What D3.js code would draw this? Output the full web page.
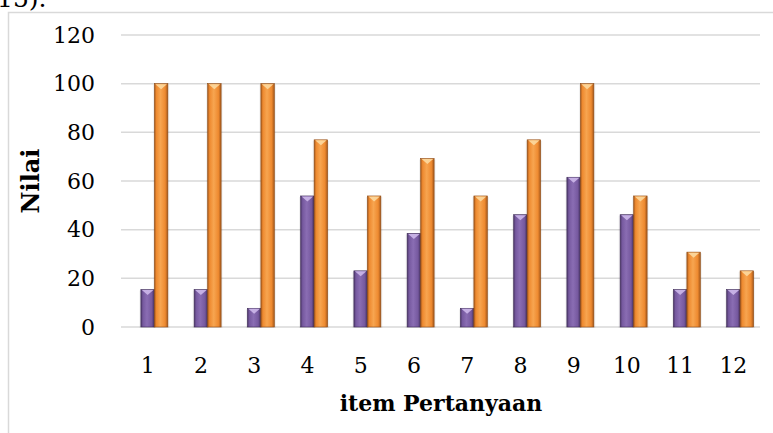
<!DOCTYPE html>
<html>
<head>
<meta charset="utf-8">
<script src="https://cdn.jsdelivr.net/npm/d3@7"></script>
<style>
  body { margin: 0; background: #fff; }
  text { font-family: "DejaVu Serif", serif; }
</style>
</head>
<body>
<div id="svg-holder"></div>
<script>
let width = 773,
    height = 433

// data
let items = ["1", "2", "3", "4", "5", "6", "7", "8", "9", "10", "11", "12"]
let nilaiUngu = [15.38, 15.38, 7.69, 53.85, 23.08, 38.46, 7.69, 46.15, 61.54, 46.15, 15.38, 15.38]
let nilaiOranye = [100, 100, 100, 76.92, 53.85, 69.23, 53.85, 76.92, 100, 53.85, 30.77, 23.08]
let yTicks = [0, 20, 40, 60, 80, 100, 120]

let svg = d3.select("#svg-holder").append('svg')
    .attr("width", width)
    .attr("height", height)

// gradients for the bevelled bars
let defs = svg.append('defs')
function addGrad(id, edge, mid, light) {
    let g = defs.append('linearGradient').attr('id', id)
        .attr('x1', '0%').attr('x2', '100%').attr('y1', '0%').attr('y2', '0%')
    g.append('stop').attr('offset', '0%').attr('stop-color', edge)
    g.append('stop').attr('offset', '15%').attr('stop-color', mid)
    g.append('stop').attr('offset', '45%').attr('stop-color', light)
    g.append('stop').attr('offset', '80%').attr('stop-color', mid)
    g.append('stop').attr('offset', '100%').attr('stop-color', edge)
}
addGrad('gradUngu', '#4a3566', '#76599f', '#8a6db3')
addGrad('gradOranye', '#a4571a', '#ee8a30', '#f7a550')

// chart frame
svg.append('rect')
    .attr('x', 8.5).attr('y', 12.5)
    .attr('width', width + 10).attr('height', height + 10)
    .attr('fill', 'none')
    .attr('stroke', '#d9d9d9')
    .attr('stroke-width', 1.5)

// text of the page above the chart, cut off like in the source
svg.append('text')
    .attr('x', -3).attr('y', 7)
    .attr('font-size', 25)
    .attr('fill', '#000')
    .text('15).')

let x = d3.scaleBand()
    .domain(items)
    .range([121, 760])

let y = d3.scaleLinear()
    .domain([0, 120])
    .range([327, 35])

let barW = 13.5
// three slots per category, the first one is empty in the source chart
let xSub = d3.scaleBand()
    .domain(['kosong', 'ungu', 'oranye'])
    .range([(x.bandwidth() - 3 * barW) / 2, (x.bandwidth() + 3 * barW) / 2])

// gridlines
svg.append('g')
    .selectAll('line')
    .data(yTicks)
    .enter()
    .append('line')
    .attr('x1', 121)
    .attr('x2', 760)
    .attr('y1', d => y(d))
    .attr('y2', d => y(d))
    .attr('stroke', '#d9d9d9')
    .attr('stroke-width', 1.5)

// y tick labels
svg.append('g')
    .selectAll('text')
    .data(yTicks)
    .enter()
    .append('text')
    .attr('x', 95)
    .attr('y', d => y(d))
    .attr('dy', '0.35em')
    .attr('text-anchor', 'end')
    .attr('font-size', 22)
    .attr('fill', '#000')
    .text(d => d)

// x tick labels
svg.append('g')
    .selectAll('text')
    .data(items)
    .enter()
    .append('text')
    .attr('x', d => x(d) + xSub('ungu') + barW / 2)
    .attr('y', 373)
    .attr('text-anchor', 'middle')
    .attr('font-size', 22)
    .attr('fill', '#000')
    .text(d => d)

let series = [
    { key: 'ungu', values: nilaiUngu, fill: 'url(#gradUngu)', stroke: '#3e2b57', tip: '#cdb8ea' },
    { key: 'oranye', values: nilaiOranye, fill: 'url(#gradOranye)', stroke: '#8f4b14', tip: '#fcd9a0' }
]

series.forEach(s => {
    let g = svg.append('g')
    let data = items.map((k, i) => ({ item: k, v: s.values[i] }))

    // soft shadow
    g.selectAll('rect.shadow')
        .data(data)
        .enter()
        .append('rect')
        .attr('class', 'shadow')
        .attr('x', d => x(d.item) + xSub(s.key) - 1.5)
        .attr('y', d => y(d.v) + 1)
        .attr('width', barW + 3)
        .attr('height', d => y(0) - y(d.v))
        .attr('fill', '#000')
        .attr('fill-opacity', 0.06)

    g.selectAll('rect.bar')
        .data(data)
        .enter()
        .append('rect')
        .attr('class', 'bar')
        .attr('x', d => x(d.item) + xSub(s.key))
        .attr('y', d => y(d.v))
        .attr('width', barW)
        .attr('height', d => y(0) - y(d.v))
        .attr('fill', s.fill)
        .attr('stroke', s.stroke)
        .attr('stroke-width', 0.6)

    // light bevel on the top
    g.selectAll('path.tip')
        .data(data)
        .enter()
        .append('path')
        .attr('class', 'tip')
        .attr('d', d => {
            let x0 = x(d.item) + xSub(s.key) + 1
            let y0 = y(d.v) + 0.5
            return `M ${x0} ${y0} L ${x0 + barW - 2} ${y0} L ${x0 + (barW - 2) / 2} ${y0 + 5} Z`
        })
        .attr('fill', s.tip)
        .attr('fill-opacity', 0.9)
})

// axis titles
svg.append('text')
    .attr('transform', `translate(39, 181) rotate(-90)`)
    .attr('text-anchor', 'middle')
    .attr('font-size', 24)
    .attr('font-weight', 'bold')
    .attr('fill', '#000')
    .text('Nilai')

svg.append('text')
    .attr('x', 441)
    .attr('y', 411)
    .attr('text-anchor', 'middle')
    .attr('font-size', 22)
    .attr('font-weight', 'bold')
    .attr('fill', '#000')
    .text('item Pertanyaan')
</script>
</body>
</html>
